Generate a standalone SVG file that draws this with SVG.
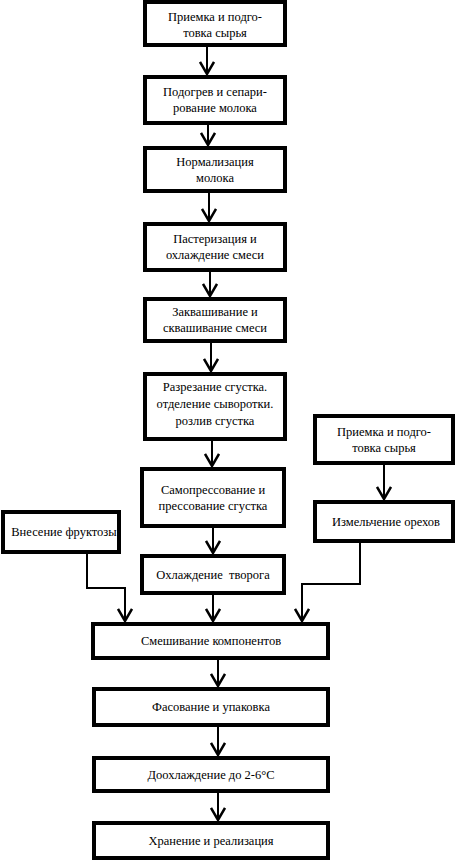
<svg xmlns="http://www.w3.org/2000/svg" width="457" height="861" viewBox="0 0 457 861">
<style>
.box{fill:#fff;stroke:#000;stroke-width:4}
text{font-family:'Liberation Serif','Times New Roman','DejaVu Serif',serif;font-size:12.5px;fill:#000;text-anchor:middle}
.c{fill:none;stroke:#000;stroke-width:2}
</style>
<defs>
<marker id="v" viewBox="0 0 14 16" refX="13" refY="8" markerWidth="14" markerHeight="16" markerUnits="userSpaceOnUse" orient="auto">
<path d="M1,1 L13,8 L1,15" fill="none" stroke="#000" stroke-width="2.5"/>
</marker>
</defs>
<rect width="457" height="861" fill="#fff"/>
<g id="connectors">
<line class="c" x1="207" y1="47" x2="207" y2="74" marker-end="url(#v)"/>
<line class="c" x1="208" y1="125" x2="208" y2="145" marker-end="url(#v)"/>
<line class="c" x1="209" y1="193" x2="209" y2="221" marker-end="url(#v)"/>
<line class="c" x1="210" y1="272" x2="210" y2="296" marker-end="url(#v)"/>
<line class="c" x1="211" y1="343" x2="211" y2="371" marker-end="url(#v)"/>
<line class="c" x1="212" y1="441" x2="212" y2="466" marker-end="url(#v)"/>
<line class="c" x1="213" y1="528" x2="213" y2="553" marker-end="url(#v)"/>
<line class="c" x1="213" y1="595" x2="213" y2="621" marker-end="url(#v)"/>
<line class="c" x1="384" y1="465" x2="384" y2="499" marker-end="url(#v)"/>
<polyline class="c" points="87,554 87,588 125,588 125,621" marker-end="url(#v)"/>
<polyline class="c" points="360,543 360,584 302,584 302,621" marker-end="url(#v)"/>
<line class="c" x1="218" y1="660" x2="218" y2="686" marker-end="url(#v)"/>
<line class="c" x1="218" y1="727" x2="218" y2="755" marker-end="url(#v)"/>
<line class="c" x1="218" y1="793" x2="218" y2="820" marker-end="url(#v)"/>
</g>
<g id="n1"><rect class="box" x="145" y="2" width="140" height="43"/><text x="215" y="21">Приемка и подго-</text><text x="215" y="37">товка сырья</text></g>
<g id="n2"><rect class="box" x="145" y="77" width="140" height="46"/><text x="215" y="96">Подогрев и сепари-</text><text x="215" y="112">рование молока</text></g>
<g id="n3"><rect class="box" x="145" y="148" width="140" height="43"/><text x="215" y="166">Нормализация</text><text x="215" y="182">молока</text></g>
<g id="n4"><rect class="box" x="145" y="224" width="140" height="46"/><text x="215" y="243">Пастеризация и</text><text x="215" y="259">охлаждение смеси</text></g>
<g id="n5"><rect class="box" x="145" y="299" width="140" height="42"/><text x="215" y="316">Заквашивание и</text><text x="215" y="332">сквашивание смеси</text></g>
<g id="n6"><rect class="box" x="145" y="374" width="140" height="65"/><text x="215" y="391">Разрезание сгустка.</text><text x="215" y="408">отделение сыворотки.</text><text x="215" y="425">розлив сгустка</text></g>
<g id="n7"><rect class="box" x="142" y="469" width="142" height="57"/><text x="213" y="494">Самопрессование и</text><text x="213" y="510">прессование сгустка</text></g>
<g id="n8"><rect class="box" x="142" y="556" width="142" height="37"/><text x="213" y="579" xml:space="preserve">Охлаждение  творога</text></g>
<g id="r1"><rect class="box" x="315" y="416" width="138" height="47"/><text x="384" y="436">Приемка и подго-</text><text x="384" y="452">товка сырья</text></g>
<g id="r2"><rect class="box" x="315" y="502" width="138" height="39"/><text x="386" y="526">Измельчение орехов</text></g>
<g id="l1"><rect class="box" x="3" y="512" width="116" height="40"/><text x="64" y="536">Внесение фруктозы</text></g>
<g id="m1"><rect class="box" x="93" y="624" width="235" height="34"/><text x="211" y="645">Смешивание компонентов</text></g>
<g id="f1"><rect class="box" x="94" y="689" width="234" height="36"/><text x="211" y="711">Фасование и упаковка</text></g>
<g id="d1"><rect class="box" x="94" y="758" width="234" height="33"/><text x="211" y="779">Доохлаждение до 2-6°С</text></g>
<g id="h1"><rect class="box" x="94" y="823" width="234" height="35"/><text x="211" y="845">Хранение и реализация</text></g>
</svg>
